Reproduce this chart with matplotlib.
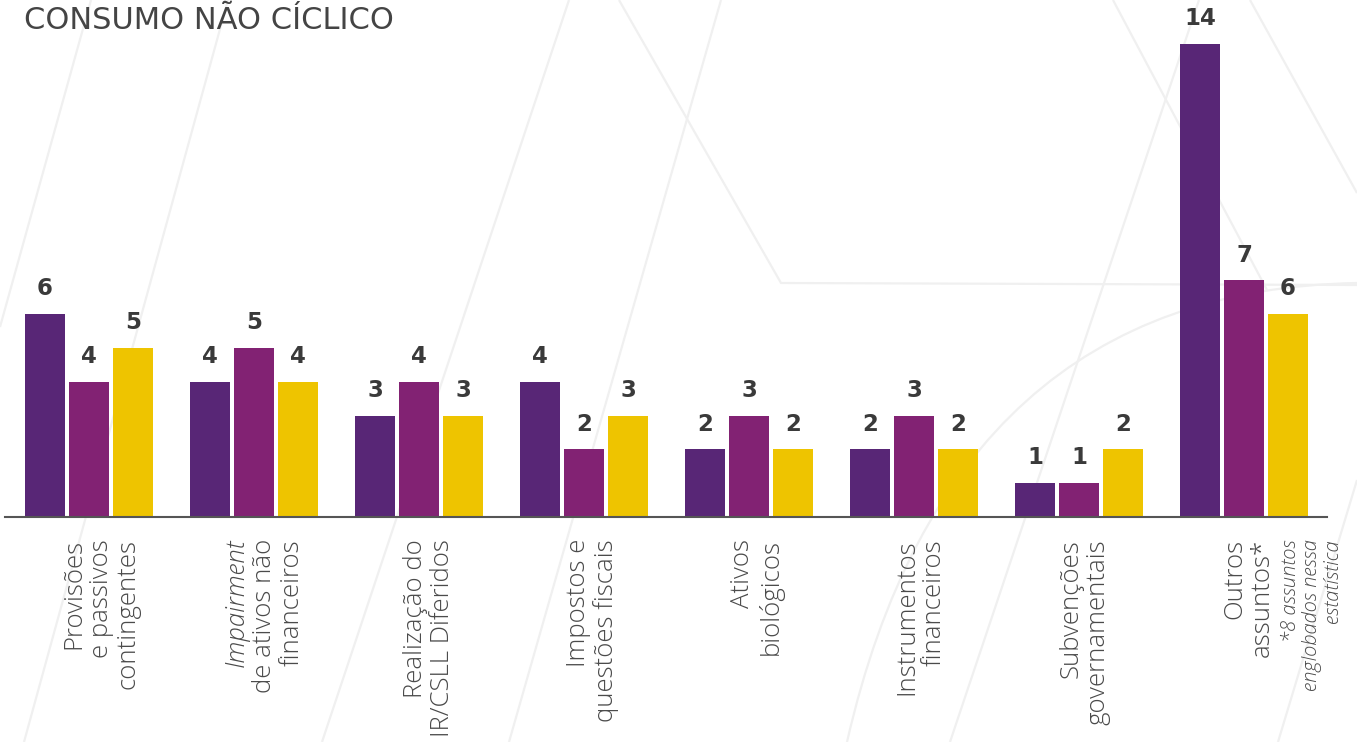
import numpy as np
import matplotlib
matplotlib.use("Agg")
import matplotlib.pyplot as plt
from matplotlib.patches import PathPatch
from matplotlib.path import Path

# --- data ---------------------------------------------------------------
categories = [
    ["Provisões", "e passivos", "contingentes"],
    ["Impairment", "de ativos não", "financeiros"],
    ["Realização do", "IR/CSLL Diferidos"],
    ["Impostos e", "questões fiscais"],
    ["Ativos", "biológicos"],
    ["Instrumentos", "financeiros"],
    ["Subvenções", "governamentais"],
    ["Outros", "assuntos*"],
]
italic_lines = {(1, 0)}  # "Impairment" is set in italics
footnote = ["*8 assuntos", "englobados nessa", "estatística"]

series_a = [6, 4, 3, 4, 2, 2, 1, 14]
series_b = [4, 5, 4, 2, 3, 3, 1, 7]
series_c = [5, 4, 3, 3, 2, 2, 2, 6]

title = "CONSUMO NÃO CÍCLICO"

# --- style --------------------------------------------------------------
colors = ["#582676", "#822273", "#eec400"]
W, H = 1357, 742
fig = plt.figure(figsize=(W / 100, H / 100), dpi=100)
fig.patch.set_facecolor("white")

# faint decorative background geometry (pixel space)
bg = fig.add_axes([0, 0, 1, 1], zorder=0)
bg.set_xlim(0, W)
bg.set_ylim(H, 0)
bg.axis("off")
bg_col = "#f0f0f0"
segments = [
    [(91, 0), (0, 327)],
    [(228, 0), (24, 742)],
    [(569, 0), (322, 742)],
    [(721, 0), (509, 742)],
    [(619, 0), (781, 283), (1357, 285)],
    [(1113, 0), (1267, 290)],
    [(1199, 0), (950, 742)],
    [(1250, 0), (1357, 193)],
    [(1357, 480), (1278, 742)],
]
for seg in segments:
    xs, ys = zip(*seg)
    bg.plot(xs, ys, color=bg_col, lw=1.6, solid_capstyle="butt")
curve = Path([(847, 742), (950, 290), (1357, 283)],
             [Path.MOVETO, Path.CURVE3, Path.CURVE3])
bg.add_patch(PathPatch(curve, facecolor="none", edgecolor=bg_col, lw=1.6))

# main bar axes
base_px = 517
left_px, right_px = 5, 1327
ax = fig.add_axes([left_px / W, (H - base_px) / H,
                   (right_px - left_px) / W, base_px / H], zorder=1)
ax.patch.set_alpha(0)

group_px = 165.0
x0_px = 89.0
x = np.arange(len(categories))
bw = 40 / group_px
step = 44 / group_px
px_per_unit = 33.8

for k, (vals, col) in enumerate(zip([series_a, series_b, series_c], colors)):
    xs = x + (k - 1) * step
    ax.bar(xs, vals, width=bw, color=col, zorder=2)
    for xi, v in zip(xs, vals):
        ax.annotate(str(v), (xi, v), xytext=(0, 10), textcoords="offset points",
                    ha="center", va="bottom", fontsize=16.5, fontweight="heavy",
                    color="#3a3a3a", family="DejaVu Sans")

ax.set_xlim((left_px - x0_px) / group_px, (right_px - x0_px) / group_px)
ax.set_ylim(0, base_px / px_per_unit)
for s in ["top", "right", "left"]:
    ax.spines[s].set_visible(False)
ax.spines["bottom"].set_color("#555555")
ax.spines["bottom"].set_linewidth(1.5)
ax.set_xticks([])
ax.set_yticks([])

# rotated category labels, one text per line, aligned at their upper end
label_font = dict(family=["Open Sans", "DejaVu Sans"], fontweight="light",
                  color="#4a4a4a", rotation=90, ha="center", va="top")
line_px = 27.5
top_px = 539
to_fig_x = lambda px: px / W
to_fig_y = lambda px: 1 - px / H
for i, lines in enumerate(categories):
    cx = x0_px + i * group_px + (12 - 1.1 * i)
    n = len(lines)
    for j, line in enumerate(lines):
        lx = cx + (j - (n - 1) / 2) * line_px
        style = "italic" if (i, j) in italic_lines else "normal"
        fig.text(to_fig_x(lx), to_fig_y(top_px), line, fontsize=18.5,
                 fontstyle=style, **label_font)

# footnote beside the last group
fx = x0_px + 7 * group_px + 68
for j, line in enumerate(footnote):
    lx = fx + (j - 1) * 21
    fig.text(to_fig_x(lx), to_fig_y(top_px), line, fontsize=14.5,
             fontstyle="italic", **label_font)

fig.text(to_fig_x(24), to_fig_y(6), title, fontsize=22, color="#444444",
         family="DejaVu Sans", ha="left", va="top")

fig.savefig("out.png", dpi=100, facecolor="white")
